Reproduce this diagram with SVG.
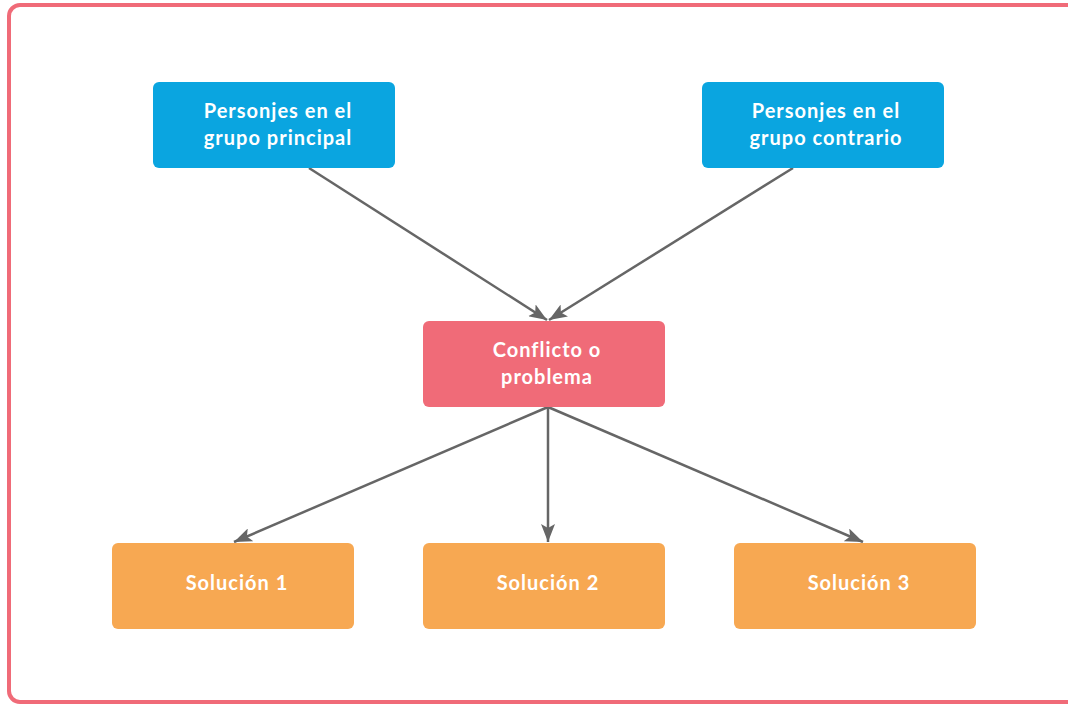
<svg xmlns="http://www.w3.org/2000/svg" width="1068" height="705" viewBox="0 0 1068 705">
<defs>
<marker id="ah" markerWidth="18" markerHeight="14" viewBox="0 0 18 14" refX="18" refY="7" orient="auto" markerUnits="userSpaceOnUse">
<path d="M0,0 L18,7 L0,14 L4,7 Z" fill="#666666"/>
</marker>
<style>
.blue{fill:#0AA5E0}
.red{fill:#F06B78}
.orange{fill:#F7A852}
.t{font-family:"Lato","Liberation Sans",sans-serif;font-weight:bold;font-size:20px;fill:#ffffff;text-anchor:middle;letter-spacing:1px}
.c{stroke:#666666;stroke-width:2.5;fill:none;marker-end:url(#ah)}
</style>
</defs>
<rect width="1068" height="705" fill="#ffffff"/>
<rect x="9" y="5" width="1075" height="697" rx="11" fill="none" stroke="#F06B78" stroke-width="4"/>
<g id="connectors">
<line class="c" x1="309" y1="168" x2="547" y2="320"/>
<line class="c" x1="793" y1="168" x2="549" y2="320"/>
<line class="c" x1="548" y1="407" x2="234" y2="542"/>
<line class="c" x1="548" y1="407" x2="548" y2="542"/>
<line class="c" x1="548" y1="407" x2="863" y2="542"/>
</g>
<g id="n1"><rect class="blue" x="153" y="82" width="242" height="86" rx="6"/><text class="t" x="278" y="118">Personjes en el</text><text class="t" x="278" y="145">grupo principal</text></g>
<g id="n2"><rect class="blue" x="702" y="82" width="242" height="86" rx="6"/><text class="t" x="826" y="118">Personjes en el</text><text class="t" x="826" y="145">grupo contrario</text></g>
<g id="n3"><rect class="red" x="423" y="321" width="242" height="86" rx="6"/><text class="t" x="547" y="357">Conflicto o</text><text class="t" x="547" y="384">problema</text></g>
<g id="n4"><rect class="orange" x="112" y="543" width="242" height="86" rx="6"/><text class="t" x="237" y="590">Solución 1</text></g>
<g id="n5"><rect class="orange" x="423" y="543" width="242" height="86" rx="6"/><text class="t" x="548" y="590">Solución 2</text></g>
<g id="n6"><rect class="orange" x="734" y="543" width="242" height="86" rx="6"/><text class="t" x="859" y="590">Solución 3</text></g>
</svg>
